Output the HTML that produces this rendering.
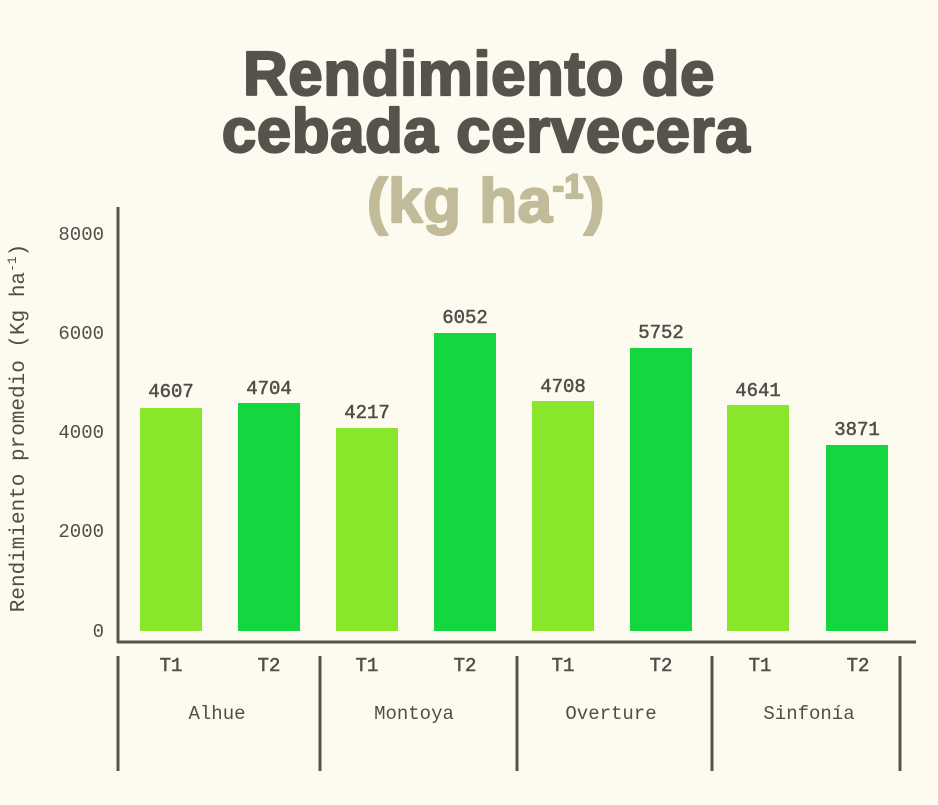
<!DOCTYPE html><html><head><meta charset="utf-8"><style>
body{margin:0;background:#fdfbf0;}
svg{display:block}
.m{font-family:"Liberation Mono",monospace;fill:#4f4e47}
.t{font-family:"Liberation Sans",sans-serif;font-weight:bold;text-anchor:middle;stroke-width:2.2;stroke-linejoin:round}
</style></head><body>
<svg width="938" height="805" viewBox="0 0 938 805">
<rect width="938" height="805" fill="#fdfbf0"/>
<text class="t" x="479" y="95" font-size="62" fill="#55544c" stroke="#55544c" letter-spacing="0.5">Rendimiento de</text>
<text class="t" x="486" y="152" font-size="62" fill="#55544c" stroke="#55544c" letter-spacing="0.5">cebada cervecera</text>
<text class="t" x="486" y="222" font-size="62" fill="#c2bb9a" stroke="#c2bb9a" letter-spacing="0.5">(kg ha<tspan font-size="34" dy="-24">-1</tspan><tspan dy="24">)</tspan></text>
<line x1="118" y1="207" x2="118" y2="643" stroke="#55544c" stroke-width="3"/>
<line x1="117" y1="642" x2="916" y2="642" stroke="#55544c" stroke-width="3"/>
<g class="m" font-size="19" text-anchor="end">
<text x="104" y="240">8000</text><text x="104" y="339">6000</text><text x="104" y="438">4000</text><text x="104" y="537">2000</text><text x="104" y="637">0</text>
</g>
<text class="m" font-size="21" transform="translate(24,428) rotate(-90)" text-anchor="middle">Rendimiento promedio (Kg ha<tspan font-size="13" dy="-8">-1</tspan><tspan dy="8">)</tspan></text>
<g>
<rect x="140" y="408" width="62" height="223" fill="#8ae62a"/>
<rect x="238" y="403" width="62" height="228" fill="#14d63e"/>
<rect x="336" y="428" width="62" height="203" fill="#8ae62a"/>
<rect x="434" y="333" width="62" height="298" fill="#14d63e"/>
<rect x="532" y="401" width="62" height="230" fill="#8ae62a"/>
<rect x="630" y="348" width="62" height="283" fill="#14d63e"/>
<rect x="727" y="405" width="62" height="226" fill="#8ae62a"/>
<rect x="826" y="445" width="62" height="186" fill="#14d63e"/>
</g>
<g class="m" font-size="19" text-anchor="middle" stroke="#4f4e47" stroke-width="0.5">
<text x="171" y="397">4607</text><text x="269" y="394">4704</text><text x="367" y="418">4217</text><text x="465" y="323">6052</text>
<text x="563" y="392">4708</text><text x="661" y="338">5752</text><text x="758" y="396">4641</text><text x="857" y="435">3871</text>
</g>
<g stroke="#55544c" stroke-width="3">
<line x1="118" y1="656" x2="118" y2="771"/><line x1="320" y1="656" x2="320" y2="771"/><line x1="517" y1="656" x2="517" y2="771"/><line x1="712" y1="656" x2="712" y2="771"/><line x1="900" y1="656" x2="900" y2="771"/>
</g>
<g class="m" font-size="19" text-anchor="middle" stroke="#4f4e47" stroke-width="0.5">
<text x="171" y="671">T1</text><text x="269" y="671">T2</text><text x="367" y="671">T1</text><text x="465" y="671">T2</text>
<text x="563" y="671">T1</text><text x="661" y="671">T2</text><text x="760" y="671">T1</text><text x="858" y="671">T2</text>
</g>
<g class="m" font-size="19" text-anchor="middle">
<text x="217" y="719">Alhue</text><text x="414" y="719">Montoya</text><text x="611" y="719">Overture</text><text x="809" y="719">Sinfonía</text>
</g>
</svg></body></html>
